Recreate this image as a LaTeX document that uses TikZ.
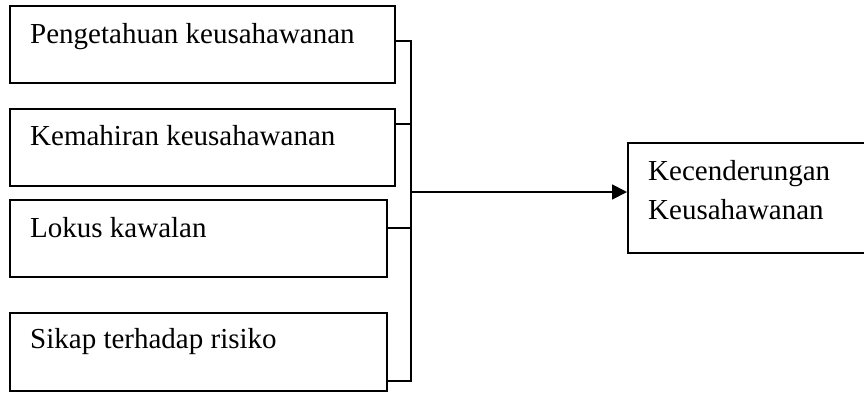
\documentclass[tikz,border=0pt]{standalone}
\usepackage{fontspec}
\setmainfont{Liberation Serif}
\usetikzlibrary{arrows.meta}
\definecolor{lineColor}{HTML}{000000}
\def\textA{Pengetahuan keusahawanan}
\def\textB{Kemahiran keusahawanan}
\def\textC{Lokus kawalan}
\def\textD{Sikap terhadap risiko}
\def\textE{Kecenderungan\\Keusahawanan}

\begin{document}
\begin{tikzpicture}[x=1pt,y=-1pt,
  box/.style={draw=lineColor, line width=1.8pt, inner sep=0pt, anchor=north west},
  boxText/.style={anchor=base west, inner sep=0pt, align=left,
    font=\fontsize{29pt}{39pt}\selectfont},
  link/.style={draw=lineColor, line width=1.8pt}]

\useasboundingbox (0, 0) rectangle (864, 392);

% box layer
\begin{scope}
\node[box, minimum width=385pt, minimum height=77pt] (pk) at (9, 5) {};
\node[box, minimum width=385pt, minimum height=77pt] (km) at (9, 108) {};
\node[box, minimum width=377pt, minimum height=77pt] (lk) at (9, 199) {};
\node[box, minimum width=377pt, minimum height=78pt] (sk) at (9, 312) {};
\node[box, minimum width=242pt, minimum height=110pt] (kk) at (627, 142) {};
\end{scope}

% label layer
\begin{scope}
\node[boxText] (pkText) at ([shift={(21, 38)}]pk.north west) {\textA};
\node[boxText] (kmText) at ([shift={(21, 37)}]km.north west) {\textB};
\node[boxText] (lkText) at ([shift={(21, 38)}]lk.north west) {\textC};
\node[boxText] (skText) at ([shift={(21, 36)}]sk.north west) {\textD};
% base of a two line node sits on its last line
\node[boxText] (kkText) at ([shift={(21, 77)}]kk.north west) {\textE};
\end{scope}

% link layer
\begin{scope}
\coordinate (bus) at (411, 192);
\draw[link] ([yshift=3.5pt]pk.east) -| (bus);
\draw[link] ([yshift=23.5pt]km.east) -| (bus);
\draw[link] ([yshift=10.5pt]lk.east) -| (bus);
\draw[link] ([yshift=-29pt]sk.east) -| (bus);
\draw[link, -{Triangle[length=15pt, width=15pt]}] (bus) -- (bus -| kk.west);
\end{scope}

\end{tikzpicture}
\end{document}
